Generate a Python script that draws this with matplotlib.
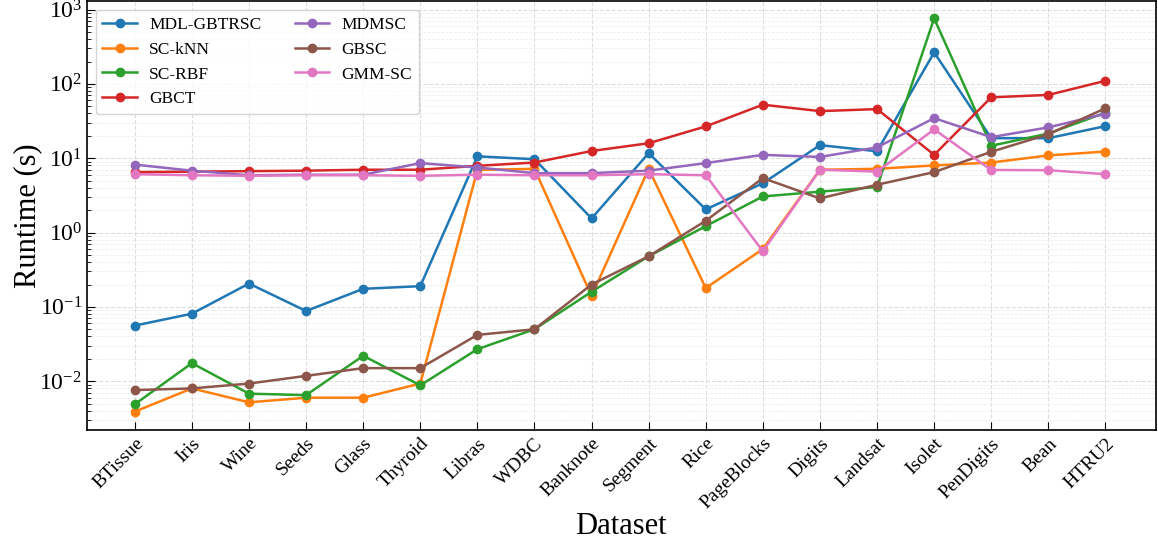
import matplotlib
matplotlib.use("Agg")
import matplotlib.pyplot as plt

plt.rcParams['font.family'] = ['Liberation Serif', 'DejaVu Serif']
plt.rcParams['mathtext.fontset'] = 'custom'
plt.rcParams['mathtext.rm'] = 'Liberation Serif'
plt.rcParams['mathtext.it'] = 'Liberation Serif:italic'

# data (runtime in seconds)
datasets = ['BTissue', 'Iris', 'Wine', 'Seeds', 'Glass', 'Thyroid', 'Libras', 'WDBC',
            'Banknote', 'Segment', 'Rice', 'PageBlocks', 'Digits', 'Landsat', 'Isolet',
            'PenDigits', 'Bean', 'HTRU2']

mdl_gbtrsc = [0.056, 0.081, 0.206, 0.088, 0.175, 0.19, 10.6, 9.7, 1.55, 11.7, 2.05, 4.6,
              15.0, 12.4, 265, 18.6, 18.6, 27]
sc_knn = [0.0039, 0.0080, 0.0052, 0.0060, 0.0060, 0.0093, 6.95, 7.2, 0.14, 7.2, 0.179, 0.60,
          7.0, 7.2, 8.0, 8.75, 10.9, 12.3]
sc_rbf = [0.0049, 0.0175, 0.0068, 0.0065, 0.022, 0.0088, 0.027, 0.050, 0.16, 0.48, 1.22, 3.06,
          3.55, 4.1, 760, 14.7, 21.5, 41]
gbct = [6.5, 6.6, 6.7, 6.8, 7.0, 7.0, 7.9, 8.75, 12.5, 15.9, 26.8, 52.5,
        43, 45.8, 11.1, 66, 71, 110]
mdmsc = [8.2, 6.8, 5.9, 6.0, 6.0, 8.6, 7.5, 6.3, 6.3, 6.8, 8.6, 11.1,
         10.4, 14.0, 34.6, 19.2, 26, 39.7]
gbsc = [0.0076, 0.0080, 0.0093, 0.0118, 0.015, 0.015, 0.042, 0.050, 0.20, 0.48, 1.44, 5.4,
        2.88, 4.4, 6.5, 12.2, 21, 47]
gmm_sc = [6.1, 5.9, 5.8, 5.9, 5.9, 5.8, 6.0, 5.9, 5.9, 6.1, 5.9, 0.56,
          7.0, 6.6, 24.4, 6.95, 6.9, 6.1]

series = [('MDL-GBTRSC', mdl_gbtrsc), ('SC-kNN', sc_knn), ('SC-RBF', sc_rbf),
          ('GBCT', gbct), ('MDMSC', mdmsc), ('GBSC', gbsc), ('GMM-SC', gmm_sc)]

fig = plt.figure(figsize=(11.58, 5.41), dpi=100)
ax = fig.add_axes([0.075, 0.205, 0.923, 0.793])

x = list(range(len(datasets)))
for name, vals in series:
    ax.plot(x, vals, marker='o', markersize=6, linewidth=1.8, label=name)

ax.set_yscale('log')
ax.set_ylim(2.2e-3, 1.3e3)
ax.set_xlim(-0.84, 17.88)
ax.set_xticks(x)
ax.set_xticklabels(datasets, rotation=45, ha='right', rotation_mode='anchor', fontsize=14)
ax.tick_params(axis='y', labelsize=17)
ax.tick_params(which='both', direction='in')
ax.tick_params(which='major', length=6)
ax.tick_params(which='minor', length=3)

ax.grid(True, which='major', linestyle='--', color='#dddddd', linewidth=0.8)
ax.grid(True, which='minor', axis='y', linestyle='--', color='#eeeeee', linewidth=0.6)

for s in ax.spines.values():
    s.set_linewidth(1.2)

ax.set_xlabel('Dataset', fontsize=22)
ax.set_ylabel('Runtime (s)', fontsize=22)
ax.xaxis.set_label_coords(0.5, -0.19)
ax.yaxis.set_label_coords(-0.042, 0.5)

ax.legend(loc='upper left', ncol=2, fontsize=12.5, frameon=True, fancybox=True,
          edgecolor='#cccccc', columnspacing=1.9, handlelength=2.0, handletextpad=0.7,
          borderaxespad=0.5)

fig.savefig('out.png', dpi=100)
